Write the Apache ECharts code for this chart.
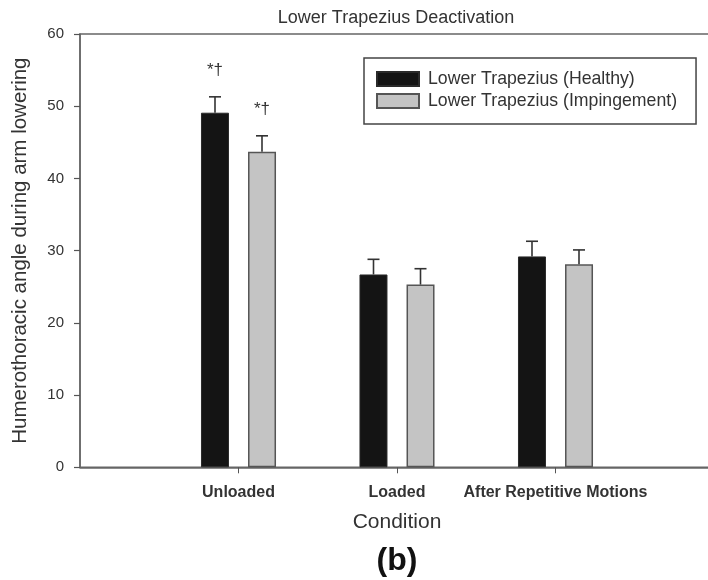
<!DOCTYPE html>
<html>
<head>
<meta charset="utf-8">
<script src="https://cdn.jsdelivr.net/npm/echarts@6/dist/echarts.min.js"></script>
<style>
html,body{margin:0;padding:0;background:#fff;}
#chart{width:708px;height:580px;}
</style>
</head>
<body>
<div id="chart"></div>
<script>
// ---- data ----
const titleText = 'Lower Trapezius Deactivation';
const categories = ['Unloaded', 'Loaded', 'After Repetitive Motions'];
const seriesNames = ['Lower Trapezius (Healthy)', 'Lower Trapezius (Impingement)'];
const healthy = [49.1, 26.7, 29.2];
const healthySD = [2.2, 2.1, 2.1];
const impingement = [43.7, 25.3, 28.1];
const impingementSD = [2.2, 2.2, 2.0];
const annotations = ['*†', '', ''];
const yTicks = [0, 10, 20, 30, 40, 50, 60];

// ---- chart ----
const FONT = '"Liberation Sans", Arial, sans-serif';
const TXT = '#333';
const axisData = [''].concat(categories, ['']);   // padding slots at both ends of the axis
const BAR_W = 28, OFFSET = 23.5;

function barData(vals) {
  return vals.map((v, i) => ({
    value: [i + 1, v],
    label: {
      show: annotations[i] !== '',
      formatter: annotations[i],
      position: 'top', distance: 34,
      fontSize: 17, color: TXT, fontFamily: FONT
    }
  }));
}
function errData(vals, sd) {
  return vals.map((v, i) => [i + 1, v, v + sd[i]]);
}
function errRender(offset) {
  return function (params, api) {
    const p0 = api.coord([api.value(0), api.value(1)]);
    const p1 = api.coord([api.value(0), api.value(2)]);
    const x = p0[0] + offset;
    const st = { stroke: '#333', lineWidth: 1.6 };
    return {
      type: 'group',
      children: [
        { type: 'line', shape: { x1: x, y1: p0[1], x2: x, y2: p1[1] }, style: st },
        { type: 'line', shape: { x1: x - 6, y1: p1[1], x2: x + 6, y2: p1[1] }, style: st }
      ]
    };
  };
}

const chart = echarts.init(document.getElementById('chart'), null, { renderer: 'canvas' });
chart.setOption({
  backgroundColor: '#fff',
  animation: false,
  legend: {
    orient: 'vertical',
    left: 364, top: 58,
    padding: [12, 19, 14, 12],
    itemGap: 4,
    itemWidth: 42, itemHeight: 14,
    borderColor: '#444', borderWidth: 1.5,
    icon: 'rect',
    data: seriesNames,
    textStyle: { fontSize: 17.7, color: TXT, fontFamily: FONT, lineHeight: 18, padding: [0, 0, 0, 4] }
  },
  grid: {
    left: 80, top: 34, width: 634, height: 433.3,
    show: true, borderColor: '#666', borderWidth: 1.5,
    containLabel: false, outerBoundsMode: 'none'
  },
  xAxis: {
    type: 'category',
    data: axisData,
    boundaryGap: false,
    name: 'Condition',
    nameLocation: 'middle',
    nameGap: 44,
    nameTextStyle: { fontSize: 21, color: TXT, fontFamily: FONT },
    axisLine: { show: true, lineStyle: { color: '#666', width: 1.5 } },
    axisTick: { show: true, length: 6, interval: (i) => i > 0 && i < axisData.length - 1, lineStyle: { color: '#555', width: 1 } },
    axisLabel: { interval: 0, margin: 17, fontSize: 16, fontWeight: 'bold', color: TXT, fontFamily: FONT },
    splitLine: { show: false }
  },
  yAxis: {
    type: 'value',
    min: yTicks[0], max: yTicks[yTicks.length - 1], interval: yTicks[1] - yTicks[0],
    name: 'Humerothoracic angle during arm lowering',
    nameLocation: 'middle',
    nameGap: 49,
    nameTextStyle: { fontSize: 20.5, color: TXT, fontFamily: FONT },
    axisLine: { show: true, lineStyle: { color: '#666', width: 1.5 } },
    axisTick: { show: true, length: 6, lineStyle: { color: '#555', width: 1.2 } },
    axisLabel: { margin: 16, fontSize: 15, color: TXT, fontFamily: FONT },
    splitLine: { show: false }
  },
  graphic: [
    {
      type: 'text', x: 396, y: 18,
      style: { text: titleText, fill: TXT, font: '18px "Liberation Sans", Arial, sans-serif', textAlign: 'center', textVerticalAlign: 'middle' }
    },
    {
      type: 'text', x: 397, y: 561,
      style: { text: '(b)', fill: '#111', font: 'bold 32px "Liberation Sans", Arial, sans-serif', textAlign: 'center', textVerticalAlign: 'middle' }
    }
  ],
  series: [
    {
      name: seriesNames[0], type: 'bar', barWidth: BAR_W, barGap: '68%',
      itemStyle: { color: '#141414', borderColor: '#2a2a2a', borderWidth: 1 },
      data: barData(healthy), z: 2
    },
    {
      name: seriesNames[1], type: 'bar', barWidth: BAR_W,
      itemStyle: { color: '#c4c4c4', borderColor: '#555', borderWidth: 1.5 },
      data: barData(impingement), z: 2
    },
    {
      type: 'custom', renderItem: errRender(-OFFSET), data: errData(healthy, healthySD), z: 3, silent: true
    },
    {
      type: 'custom', renderItem: errRender(OFFSET), data: errData(impingement, impingementSD), z: 3, silent: true
    }
  ]
});
</script>
</body>
</html>
